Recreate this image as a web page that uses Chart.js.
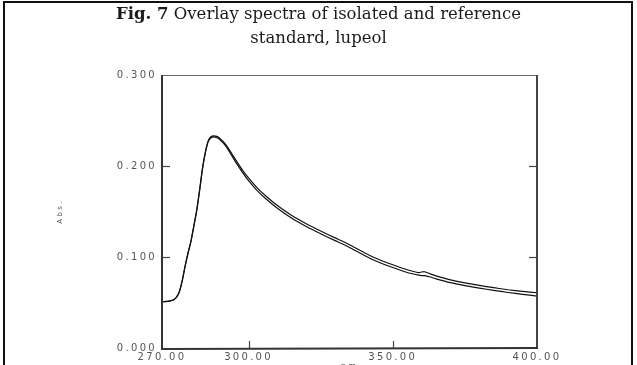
<!DOCTYPE html>
<html>
<head>
<meta charset="utf-8">
<script src="https://cdn.jsdelivr.net/npm/chart.js@4/dist/chart.umd.min.js"></script>
<style>
  html, body { margin: 0; padding: 0; background: #fff; overflow: hidden; }
  #wrap { position: relative; width: 637px; height: 365px; overflow: hidden; }
  #frame { position: absolute; left: 3px; top: 1px; width: 626px; height: 380px;
           border-left: 2px solid #111; border-top: 2px solid #111; border-right: 2px solid #111; }
  #title { position: absolute; left: 0; top: 2px; width: 637px; text-align: center;
           font-family: "DejaVu Serif", serif; font-size: 16.5px; line-height: 24px; color: #1a1a1a; }
  #title b { font-weight: bold; }
  canvas { position: absolute; left: 0; top: 0; }
</style>
</head>
<body>
<div id="wrap">
  <canvas id="c" width="637" height="372"></canvas>
  <div id="frame"></div>
  <div id="title"><b>Fig. 7</b> Overlay spectra of isolated and reference<br>standard, lupeol</div>
</div>
<script>
const wavelengths = [270,272,274,275,276,277,278,279,280,281,282,283,284,285,286,287,288,289,290,292,294,296,298,300,303,306,310,315,320,325,330,335,340,345,350,355,359,360,361,363,365,370,375,380,385,390,395,400];
const isolated = [0.0510,0.0513,0.0528,0.0555,0.0615,0.0735,0.0895,0.1035,0.1165,0.1330,0.1500,0.1720,0.1960,0.2140,0.2265,0.2310,0.2320,0.2310,0.2290,0.2225,0.2125,0.2020,0.1925,0.1840,0.1730,0.1640,0.1535,0.1425,0.1335,0.1255,0.1180,0.1105,0.1020,0.0945,0.0885,0.0830,0.0800,0.0795,0.0795,0.0780,0.0760,0.0718,0.0686,0.0658,0.0633,0.0610,0.0590,0.0571];
const standard = [0.0510,0.0513,0.0530,0.0560,0.0620,0.0740,0.0900,0.1045,0.1170,0.1340,0.1510,0.1730,0.1965,0.2150,0.2275,0.2325,0.2330,0.2325,0.2305,0.2240,0.2145,0.2045,0.1950,0.1870,0.1760,0.1670,0.1565,0.1455,0.1365,0.1285,0.1210,0.1135,0.1050,0.0975,0.0915,0.0860,0.0828,0.0835,0.0838,0.0815,0.0792,0.0748,0.0716,0.0688,0.0663,0.0640,0.0622,0.0607];
const xTicks = [270, 300, 350, 400];
const yTicks = [0, 0.1, 0.2, 0.3];
const xInnerTicks = [300, 350];
const yInnerTicks = [0.1, 0.2];

const toPts = (xs, ys) => xs.map((x, i) => ({ x: x, y: ys[i] }));

const spacingPlugin = {
  id: 'spacing',
  beforeLayout(chart) { chart.ctx.letterSpacing = '2.3px'; },
  beforeDraw(chart) { chart.ctx.letterSpacing = '2.3px'; }
};

const framePlugin = {
  id: 'frame',
  afterDatasetsDraw(chart) {
    const { ctx, chartArea: a, scales } = chart;
    ctx.save();
    ctx.lineCap = 'butt';
    ctx.strokeStyle = '#666'; ctx.lineWidth = 1.2;
    ctx.beginPath(); ctx.moveTo(a.left, a.top + 0.5); ctx.lineTo(a.right, a.top + 0.5); ctx.stroke();
    ctx.strokeStyle = '#444'; ctx.lineWidth = 2;
    ctx.beginPath(); ctx.moveTo(a.right, a.top); ctx.lineTo(a.right, a.bottom); ctx.stroke();
    ctx.strokeStyle = '#333'; ctx.lineWidth = 2;
    ctx.beginPath(); ctx.moveTo(a.left, a.top); ctx.lineTo(a.left, a.bottom + 1); ctx.lineTo(a.right + 1, a.bottom); ctx.stroke();
    ctx.strokeStyle = '#444'; ctx.lineWidth = 1.2;
    yInnerTicks.forEach(v => {
      const y = Math.round(scales.y.getPixelForValue(v)) + 0.5;
      ctx.beginPath(); ctx.moveTo(a.left, y); ctx.lineTo(a.left + 8, y); ctx.stroke();
      ctx.beginPath(); ctx.moveTo(a.right, y); ctx.lineTo(a.right - 8, y); ctx.stroke();
    });
    xInnerTicks.forEach(v => {
      const x = Math.round(scales.x.getPixelForValue(v)) + 0.5;
      ctx.beginPath(); ctx.moveTo(x, a.bottom); ctx.lineTo(x, a.bottom - 7); ctx.stroke();
    });
    ctx.restore();
  }
};

new Chart(document.getElementById('c'), {
  type: 'line',
  data: {
    datasets: [
      { label: 'isolated', data: toPts(wavelengths, isolated), borderColor: '#111', borderWidth: 1.2, pointRadius: 0, tension: 0.2, fill: false },
      { label: 'reference standard', data: toPts(wavelengths, standard), borderColor: '#111', borderWidth: 1.2, pointRadius: 0, tension: 0.2, fill: false }
    ]
  },
  options: {
    responsive: false,
    animation: false,
    devicePixelRatio: 1,
    layout: { padding: { left: 56, top: 75, right: 100, bottom: 0 } },
    plugins: { legend: { display: false }, tooltip: { enabled: false }, title: { display: false } },
    scales: {
      x: {
        type: 'linear', min: 270, max: 400,
        afterBuildTicks: s => { s.ticks = xTicks.map(v => ({ value: v })); },
        afterFit: s => { s.height = 24; },
        grid: { display: false, drawTicks: false },
        border: { display: false },
        ticks: { callback: v => Number(v).toFixed(2), color: '#555', font: { family: 'DejaVu Sans', size: 10 }, padding: 3, maxRotation: 0, autoSkip: false },
        title: { display: true, text: 'nm', color: '#555', font: { family: 'DejaVu Sans', size: 8 }, padding: 0 }
      },
      y: {
        type: 'linear', min: 0, max: 0.3,
        afterBuildTicks: s => { s.ticks = yTicks.map(v => ({ value: v })); },
        afterFit: s => { s.width = 106; },
        grid: { display: false, drawTicks: false },
        border: { display: false },
        ticks: { callback: v => Number(v).toFixed(3), color: '#555', font: { family: 'DejaVu Sans', size: 10 }, padding: 5 },
        title: { display: true, text: 'Abs.', color: '#555', font: { family: 'DejaVu Sans', size: 7 }, padding: 0 }
      }
    }
  },
  plugins: [spacingPlugin, framePlugin]
});
</script>
</body>
</html>
